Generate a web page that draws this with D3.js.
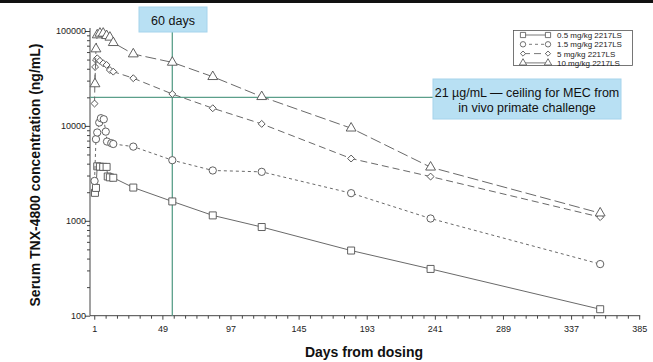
<!DOCTYPE html>
<html>
<head>
<meta charset="utf-8">
<script src="https://cdn.jsdelivr.net/npm/d3@7"></script>
<style>
  body { margin: 0; background: #fff; }
  svg { display: block; font-family: Arial, "Liberation Sans", sans-serif; }
</style>
</head>
<body>
<svg id="chart" width="653" height="362"></svg>
<script>
// data (days from dosing, ng/mL)
const days05 = [1.5, 2.2, 3.1, 5, 7.3, 9.7, 10.5, 12, 14.4, 28.5, 56, 84.5, 119, 182, 238, 357.5]
const conc05 = [1970, 2220, 3750, 3720, 3700, 3700, 2930, 2870, 2840, 2240, 1600, 1140, 860, 486, 311, 117]

const days15 = [1.2, 2.2, 3.1, 4.5, 5.7, 7.7, 9.1, 10, 13, 14.4, 28.5, 56, 84.5, 119, 182, 238, 357.5]
const conc15 = [2630, 7250, 8520, 10850, 12050, 11750, 8700, 6840, 6580, 6450, 6050, 4350, 3390, 3280, 1955, 1057, 350]

const days5 = [1.2, 1.6, 2.2, 3.1, 5, 7.3, 9.7, 12, 14.4, 28.5, 56, 84.5, 119, 182, 238, 357.5]
const conc5 = [17200, 41800, 49500, 51600, 48500, 45700, 43900, 38800, 37300, 31800, 21700, 15350, 10500, 4530, 2925, 1094]

const days10 = [1.5, 2.2, 3.1, 5, 7.3, 9.7, 12, 14.4, 28.5, 56, 84.5, 119, 182, 238, 357.5]
const conc10 = [27700, 64600, 90800, 94500, 94500, 89200, 85800, 75300, 57200, 46700, 33000, 20300, 9460, 3670, 1205]

const seriesNames = ['0.5 mg/kg 2217LS', '1.5 mg/kg 2217LS', '5 mg/kg 2217LS', '10 mg/kg 2217LS']
const xMajorTicks = [1, 49, 97, 145, 193, 241, 289, 337, 385]
const yMajorTicks = [100, 1000, 10000, 100000]

const markerDay = 56       // vertical "60 days" line
const mecLevel = 20000     // horizontal MEC line

const svg = d3.select('#chart')

const x = d3.scaleLinear().domain([-2, 385]).range([90, 639.2])
const y = d3.scaleLog().domain([100, 100000]).range([315.7, 31])

// black strip on top
svg.append('rect').attr('x', 0).attr('y', 0).attr('width', 653).attr('height', 3).attr('fill', '#111')

// axes
const xTicks = d3.range(1, 386, 8)
const xAxis = svg.append('g')
  .attr('transform', `translate(0,${y(100)})`)
  .call(d3.axisBottom(x).tickValues(xTicks).tickSize(3).tickSizeOuter(0)
    .tickFormat(d => xMajorTicks.includes(d) ? d : ''))
xAxis.select('.domain').attr('d', `M${x(-2)},0H${x(385) + 1}`)
xAxis.selectAll('.tick line').attr('y2', d => xMajorTicks.includes(d) ? 4 : 3)

const yTicks = y.ticks()
const yAxis = svg.append('g')
  .attr('transform', `translate(${x(-2)},0)`)
  .call(d3.axisLeft(y).tickValues(yTicks).tickSize(3).tickSizeOuter(0)
    .tickFormat(d => yMajorTicks.includes(d) ? d : ''))
yAxis.select('.domain').attr('d', `M0,${y(100000) - 3}V${y(100)}`)
yAxis.selectAll('.tick line').attr('x2', d => yMajorTicks.includes(d) ? -5 : -3)

svg.selectAll('.domain, .tick line').attr('stroke', '#444')
svg.selectAll('.tick text').attr('fill', '#222').attr('font-size', 9)
xAxis.selectAll('.tick text').attr('dy', '1.1em')
yAxis.selectAll('.tick text').attr('x', -4)

// axis titles
svg.append('text')
  .attr('transform', 'translate(40,175) rotate(-90)')
  .attr('text-anchor', 'middle')
  .attr('font-size', 14).attr('font-weight', 'bold').attr('fill', '#111')
  .text('Serum TNX-4800 concentration (ng/mL)')

svg.append('text')
  .attr('x', 364).attr('y', 357)
  .attr('text-anchor', 'middle')
  .attr('font-size', 14).attr('font-weight', 'bold').attr('fill', '#111')
  .text('Days from dosing')

// reference lines
const green = '#5b9f8a'
svg.append('line')
  .attr('x1', x(-2)).attr('x2', 433)
  .attr('y1', y(mecLevel)).attr('y2', y(mecLevel))
  .attr('stroke', green).attr('stroke-width', 1.3)
svg.append('line')
  .attr('x1', x(markerDay)).attr('x2', x(markerDay))
  .attr('y1', 32).attr('y2', y(100))
  .attr('stroke', green).attr('stroke-width', 1.3)

// series
const series = [
  { name: seriesNames[0], days: days05, conc: conc05, dash: null, symbol: d3.symbolSquare, size: 49, rot: 0 },
  { name: seriesNames[1], days: days15, conc: conc15, dash: '3,3', symbol: d3.symbolCircle, size: 42, rot: 0 },
  { name: seriesNames[2], days: days5, conc: conc5, dash: '7,4', symbol: d3.symbolSquare, size: 24, rot: 45 },
  { name: seriesNames[3], days: days10, conc: conc10, dash: '11,4', symbol: d3.symbolTriangle, size: 42, rot: 0 }
]

const line = d3.line().x(d => x(d[0])).y(d => y(d[1]))
const lineColor = '#6a6a6a'
const markColor = '#505050'

series.forEach(s => {
  const pts = s.days.map((d, i) => [d, s.conc[i]])
  svg.append('path')
    .datum(pts)
    .attr('d', line)
    .attr('fill', 'none')
    .attr('stroke', lineColor)
    .attr('stroke-width', 1)
    .attr('stroke-dasharray', s.dash)
  svg.append('g')
    .selectAll('path')
    .data(pts)
    .enter()
    .append('path')
    .attr('d', d3.symbol().type(s.symbol).size(s.size))
    .attr('transform', d => `translate(${x(d[0])},${y(d[1])}) rotate(${s.rot})`)
    .attr('fill', '#fff')
    .attr('stroke', markColor)
    .attr('stroke-width', 0.9)
})

// legend
const legend = svg.append('g')
legend.append('rect')
  .attr('x', 513.5).attr('y', 30.5).attr('width', 119).attr('height', 35)
  .attr('fill', '#fff').attr('stroke', '#555').attr('stroke-width', 0.8)
series.forEach((s, i) => {
  const ly = 35 + i * 9.3
  legend.append('line')
    .attr('x1', 523).attr('x2', 548).attr('y1', ly).attr('y2', ly)
    .attr('stroke', lineColor).attr('stroke-width', 0.9)
    .attr('stroke-dasharray', s.dash ? (i === 3 ? null : s.dash) : null)
  ;[523, 548].forEach(lx => {
    legend.append('path')
      .attr('d', d3.symbol().type(s.symbol).size(s.size * 0.55))
      .attr('transform', `translate(${lx},${ly}) rotate(${s.rot})`)
      .attr('fill', '#fff').attr('stroke', markColor).attr('stroke-width', 0.8)
  })
  legend.append('text')
    .attr('x', 557).attr('y', ly + 3)
    .attr('font-size', 8).attr('fill', '#222')
    .text(s.name)
})

// annotation boxes
const boxFill = '#b8e0f3'
const boxStroke = '#a6d4ec'
svg.append('rect')
  .attr('x', 139).attr('y', 7).attr('width', 68).attr('height', 25)
  .attr('fill', boxFill).attr('stroke', boxStroke)
svg.append('text')
  .attr('x', 173).attr('y', 24.5).attr('text-anchor', 'middle')
  .attr('font-size', 12.5).attr('fill', '#111')
  .text('60 days')

svg.append('rect')
  .attr('x', 433).attr('y', 79).attr('width', 188).attr('height', 40)
  .attr('fill', boxFill).attr('stroke', boxStroke)
const mecText = svg.append('text')
  .attr('text-anchor', 'middle').attr('font-size', 12.5).attr('fill', '#111')
mecText.append('tspan').attr('x', 527).attr('y', 97).text('21 µg/mL — ceiling for MEC from')
mecText.append('tspan').attr('x', 527).attr('y', 111.5).text('in vivo primate challenge')
</script>
</body>
</html>
